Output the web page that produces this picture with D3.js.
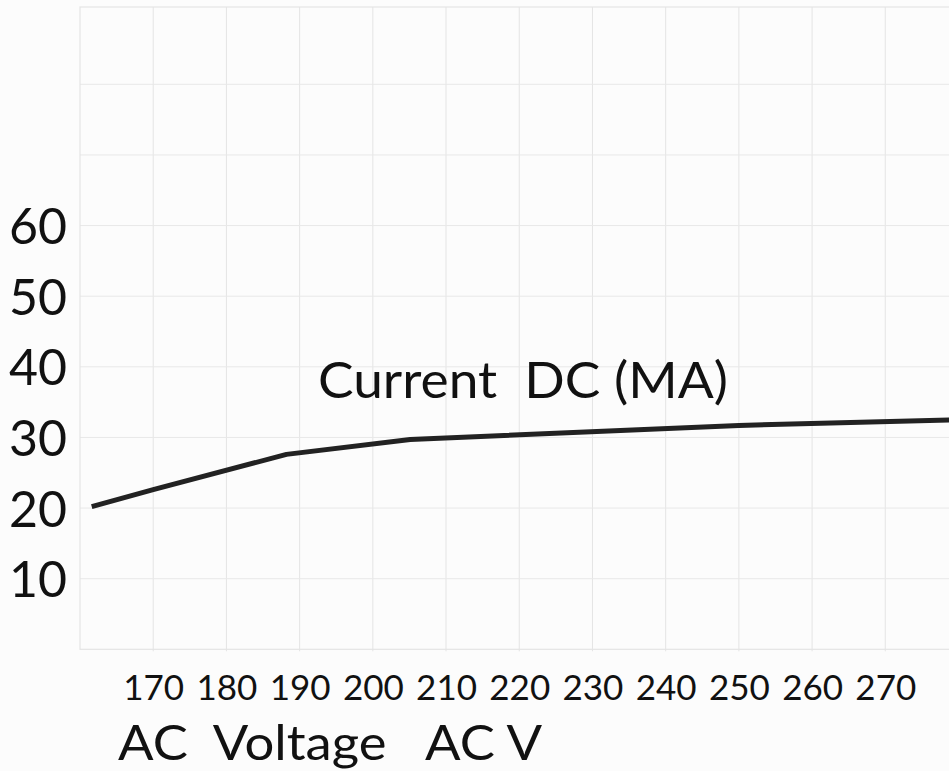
<!DOCTYPE html>
<html>
<head>
<meta charset="utf-8">
<script src="https://cdn.jsdelivr.net/npm/d3@7"></script>
<style>
body { margin: 0; background: #fcfcfc; }
text { font-family: "Lato", "Noto Sans", sans-serif; font-weight: 400; fill: #111; }
</style>
</head>
<body>
<div id="canvas"></div>
<script>
// ----------------------------------------------------------
// DATA -----------------------------------------------------
// ----------------------------------------------------------
var voltage = [161.6, 170, 188.2, 205.1, 250, 280];
var current = [20.2, 22.6, 27.6, 29.7, 31.7, 32.5];
var x_ticks = [170, 180, 190, 200, 210, 220, 230, 240, 250, 260, 270];
var x_grid = [170, 180, 190, 200, 210, 220, 230, 240, 250, 260, 270, 280];
var y_ticks = [10, 20, 30, 40, 50, 60];
var y_grid = [10, 20, 30, 40, 50, 60, 70, 80];
var text_title = "Current  DC (MA)";
var text_xlabel = "AC  Voltage   AC V";

// ----------------------------------------------------------
// STRUCTURE ------------------------------------------------
// ----------------------------------------------------------
var width = 949, height = 771;
var plot_left = 80, plot_right = 958.5, plot_top = 7, plot_bottom = 649.3;

var svg = d3.select("#canvas").append("svg")
  .attr("width", width)
  .attr("height", height)
  .style("background-color", "#fcfcfc");

var xScale = d3.scaleLinear().domain([160, 280]).range([plot_left, plot_right]);
var yScale = d3.scaleLinear().domain([0, 80]).range([plot_bottom, 84.3]);

var grid_group = svg.append("g");
var line_group = svg.append("g");
var text_group = svg.append("g");

// ----------------------------------------------------------
// GRID -----------------------------------------------------
// ----------------------------------------------------------
grid_group.selectAll(".vgrid")
  .data(x_grid)
  .enter().append("line")
  .attr("x1", function(d) { return xScale(d); })
  .attr("x2", function(d) { return xScale(d); })
  .attr("y1", plot_top)
  .attr("y2", plot_bottom + 2)
  .attr("stroke", "#e4e4e4")
  .attr("stroke-width", 1);

grid_group.selectAll(".hgrid")
  .data(y_grid)
  .enter().append("line")
  .attr("x1", plot_left)
  .attr("x2", plot_right)
  .attr("y1", function(d) { return yScale(d); })
  .attr("y2", function(d) { return yScale(d); })
  .attr("stroke", "#e8e8e8")
  .attr("stroke-width", 1);

// frame
grid_group.append("rect")
  .attr("x", plot_left)
  .attr("y", plot_top)
  .attr("width", plot_right - plot_left)
  .attr("height", plot_bottom - plot_top)
  .attr("fill", "none")
  .attr("stroke", "#e4e4e4")
  .attr("stroke-width", 1.2);

// ----------------------------------------------------------
// LINE -----------------------------------------------------
// ----------------------------------------------------------
var line = d3.line()
  .x(function(d, i) { return xScale(voltage[i]); })
  .y(function(d) { return yScale(d); });

line_group.append("path")
  .datum(current)
  .attr("d", line)
  .attr("fill", "none")
  .attr("stroke", "#222")
  .attr("stroke-width", 5)
  .attr("stroke-linejoin", "round");

// ----------------------------------------------------------
// AXES -----------------------------------------------------
// ----------------------------------------------------------
var xAxis = svg.append("g")
  .attr("transform", "translate(0," + plot_bottom + ")")
  .call(d3.axisBottom(xScale).tickValues(x_ticks).tickSize(0))
  .call(function(g) {
    g.select(".domain").remove();
    g.selectAll(".tick text")
      .attr("y", 51)
      .attr("dy", 0)
      .style("font-family", "Lato, sans-serif")
      .style("font-size", "35px")
      .attr("fill", "#111");
  });

var yAxis = svg.append("g")
  .attr("transform", "translate(67,0)")
  .call(d3.axisLeft(yScale).tickValues(y_ticks).tickSize(0))
  .call(function(g) {
    g.select(".domain").remove();
    g.selectAll(".tick text")
      .attr("x", 0)
      .attr("dy", "0.36em")
      .style("font-family", "Lato, sans-serif")
      .style("font-size", "50px")
      .attr("fill", "#111");
  });

// ----------------------------------------------------------
// TEXT -----------------------------------------------------
// ----------------------------------------------------------
text_group.append("text")
  .attr("x", 318)
  .attr("y", 398)
  .style("font-size", "50px")
  .style("white-space", "pre")
  .attr("textLength", 410)
  .attr("lengthAdjust", "spacingAndGlyphs")
  .text(text_title);

text_group.append("text")
  .attr("x", 118)
  .attr("y", 760)
  .style("font-size", "48px")
  .style("white-space", "pre")
  .attr("textLength", 424)
  .attr("lengthAdjust", "spacingAndGlyphs")
  .text(text_xlabel);
</script>
</body>
</html>
